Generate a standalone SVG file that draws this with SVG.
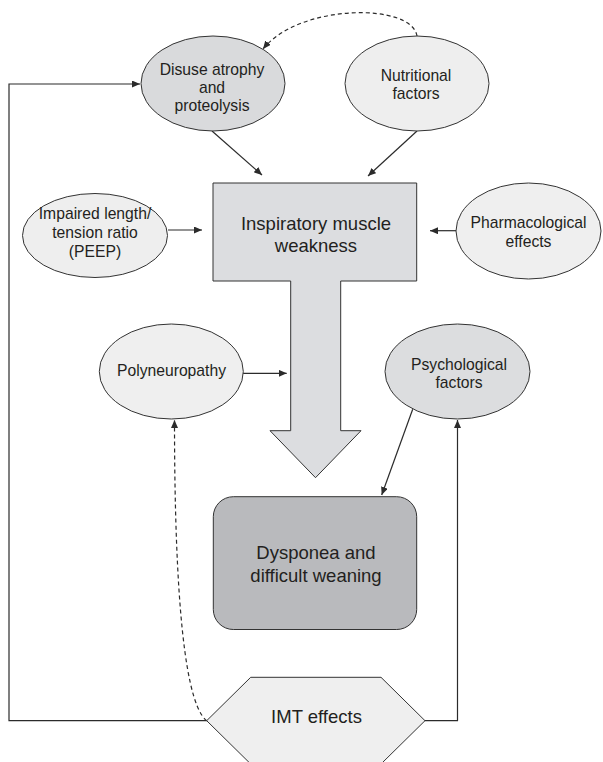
<svg xmlns="http://www.w3.org/2000/svg" width="603" height="762" viewBox="0 0 603 762">
<style>
.s{font-family:"Liberation Sans",Arial,sans-serif;fill:#231f20;text-anchor:middle}
.sm{font-size:15.7px}
.lg{font-size:18.5px}
.nd{stroke:#333;stroke-width:1}
.c{fill:none;stroke:#2b2b2b;stroke-width:1.2}
.d{stroke-dasharray:4 3}
.a{marker-end:url(#ah)}
</style>
<defs>
<marker id="ah" markerUnits="userSpaceOnUse" markerWidth="9" markerHeight="8" refX="8" refY="3.5" orient="auto">
<path d="M0,0 L8,3.5 L0,7 z" fill="#2b2b2b"/>
</marker>
</defs>
<rect width="603" height="762" fill="#fff"/>
<g id="connectors">
<path class="c d a" d="M417,36 C412,3 300,3 263,49"/>
<path class="c a" d="M212,131 L262,175"/>
<path class="c a" d="M417,131 L368,176"/>
<path class="c a" d="M168,230 L202,230"/>
<path class="c a" d="M456,230.7 L430,230.7"/>
<path class="c a" d="M243,373.3 L286.7,373.3"/>
<path class="c a" d="M412.7,409.3 L381.7,495"/>
<path class="c a" d="M206.7,720.7 L9,720.7 L9,84 L140,84"/>
<path class="c a" d="M425,720.7 L457.5,720.7 L457.5,420"/>
<path class="c d a" d="M206.7,720.7 C180,700 174.5,550 174.5,420"/>
</g>
<g id="disuse">
<ellipse class="nd" cx="213" cy="83.5" rx="72" ry="47.5" fill="#d9dadc"/>
<text class="s sm" x="212" y="75">Disuse atrophy</text>
<text class="s sm" x="212" y="93">and</text>
<text class="s sm" x="212" y="111">proteolysis</text>
</g>
<g id="nutritional">
<ellipse class="nd" cx="417" cy="83.5" rx="72" ry="47.5" fill="#eeeeee"/>
<text class="s sm" x="416" y="81">Nutritional</text>
<text class="s sm" x="416" y="99.3">factors</text>
</g>
<g id="impaired">
<ellipse class="nd" cx="95" cy="235.5" rx="72.5" ry="42" fill="#eeeeee"/>
<text class="s sm" x="95" y="219">Impaired length/</text>
<text class="s sm" x="95" y="238.3">tension ratio</text>
<text class="s sm" x="95" y="257.3">(PEEP)</text>
</g>
<g id="pharmacological">
<ellipse class="nd" cx="528.5" cy="231" rx="72.5" ry="48" fill="#efefef"/>
<text class="s sm" x="528.5" y="227.7">Pharmacological</text>
<text class="s sm" x="528.5" y="246.7">effects</text>
</g>
<g id="inspiratory">
<path class="nd" fill="#dcdde0" d="M213,183 L416.7,183 L416.7,281 L340.7,281 L340.7,430.7 L361,430.7 L315.5,477.7 L270,430.7 L290.7,430.7 L290.7,281 L213,281 Z"/>
<text class="s lg" x="316" y="229.5">Inspiratory muscle</text>
<text class="s lg" x="316" y="251.5">weakness</text>
</g>
<g id="polyneuropathy">
<ellipse class="nd" cx="171.3" cy="371.5" rx="72" ry="47.5" fill="#efefef"/>
<text class="s sm" x="171.5" y="376">Polyneuropathy</text>
</g>
<g id="psychological">
<ellipse class="nd" cx="457.5" cy="371.5" rx="72.5" ry="47.5" fill="#dcdddf"/>
<text class="s sm" x="459" y="370">Psychological</text>
<text class="s sm" x="459" y="388.3">factors</text>
</g>
<g id="dyspnea">
<rect class="nd" x="213.3" y="496.7" width="203.4" height="132.8" rx="20" fill="#b9babd"/>
<text class="s lg" x="316" y="558.5">Dysponea and</text>
<text class="s lg" x="316" y="581.5">difficult weaning</text>
</g>
<g id="imt">
<polygon class="nd" fill="#efefef" points="250.7,677.3 381,677.3 425,720.7 381,764 250.7,764 206.7,720.7"/>
<text class="s lg" x="316.5" y="722.5">IMT effects</text>
</g>
</svg>
